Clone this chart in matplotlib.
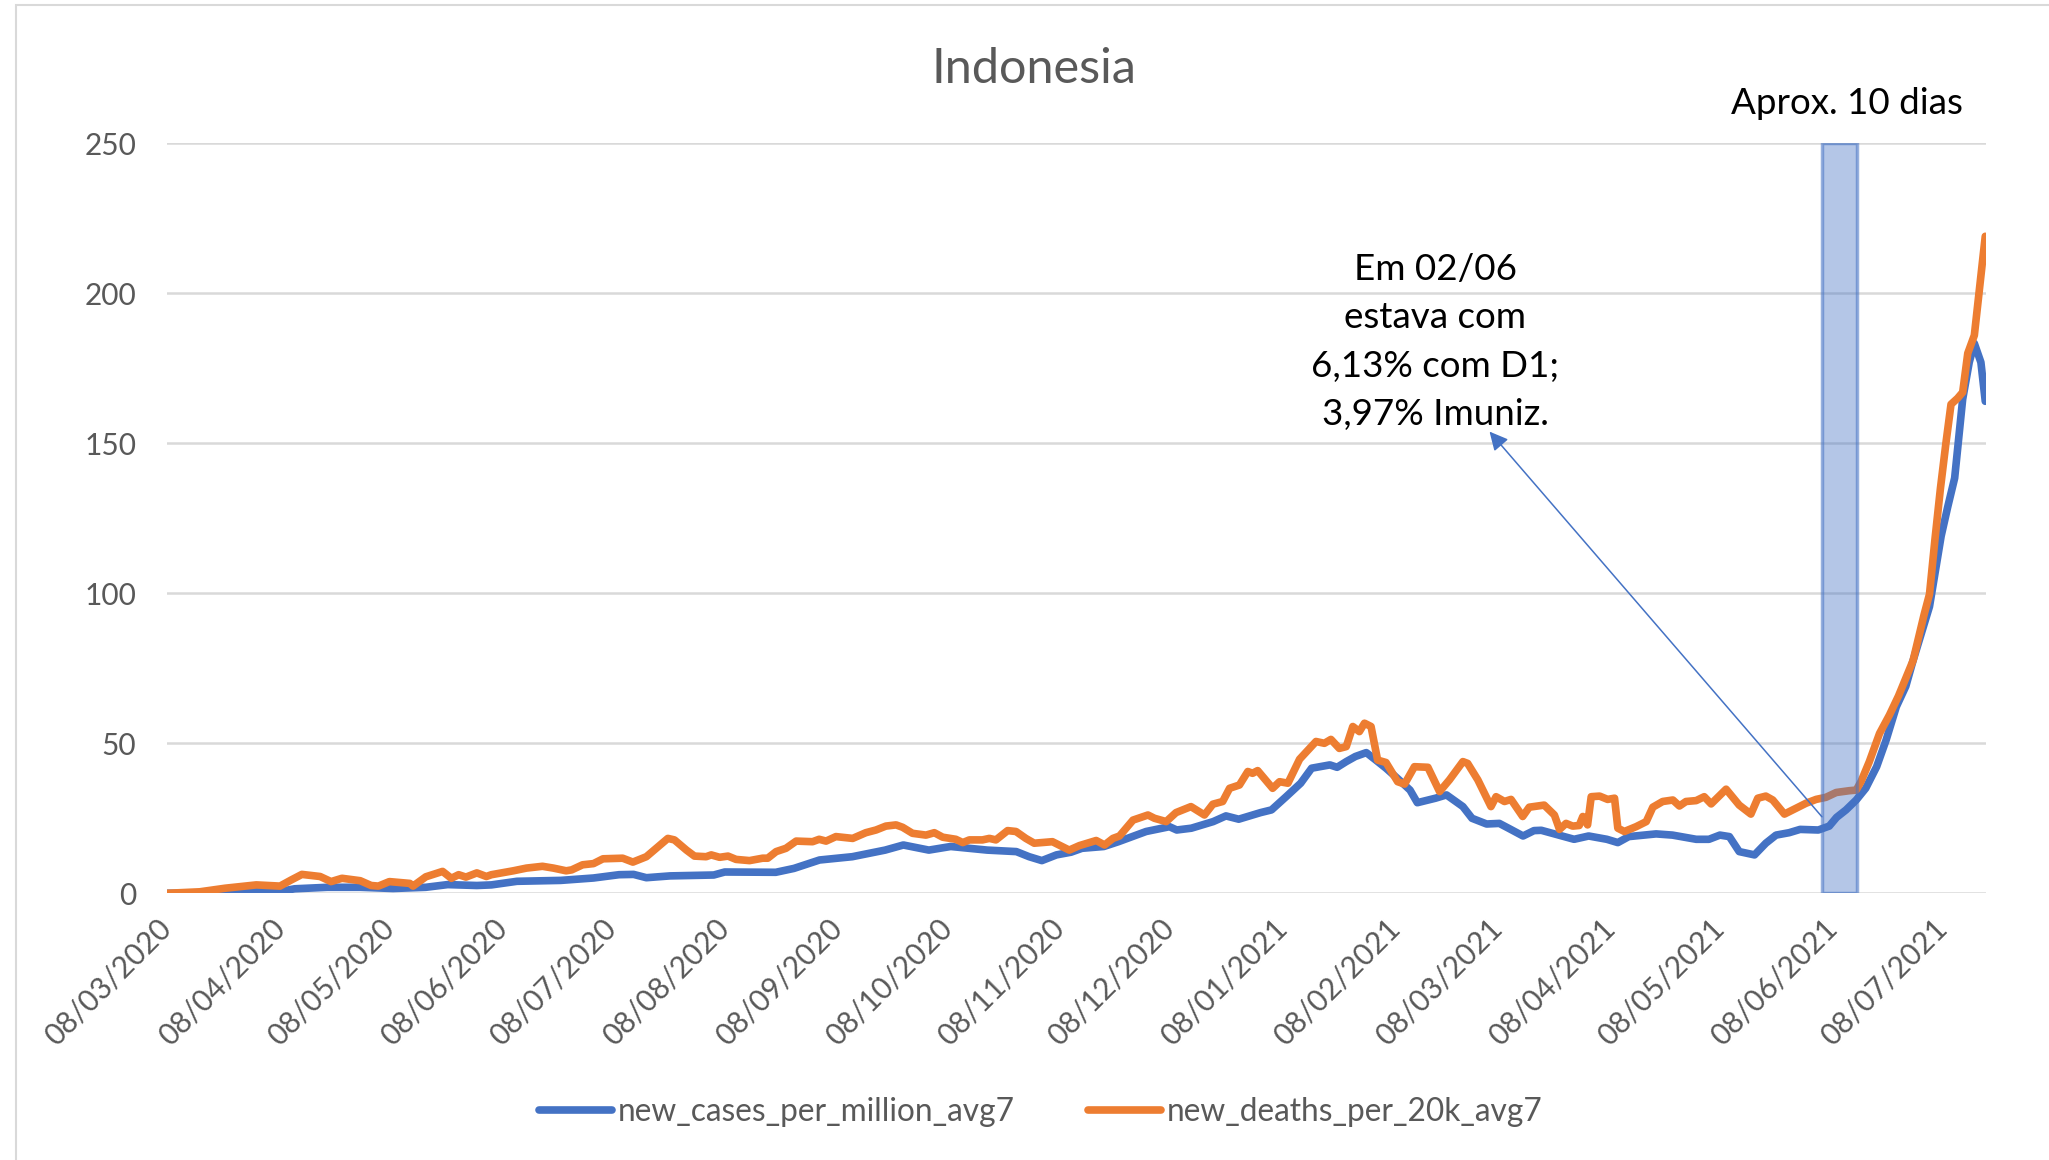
import matplotlib
matplotlib.use("Agg")
import matplotlib.pyplot as plt
import matplotlib.dates as mdates
import matplotlib.patches as mpatches
import pandas as pd

plt.rcParams["font.family"] = ["Lato", "DejaVu Sans"]

# ── Data (days since 08/03/2020) ──────────────────────────────────
START = pd.Timestamp("2020-03-08")
END_DAY = 499

cases_days = [0, 9, 16, 24, 31, 35, 44, 53, 62, 71, 77, 85, 89, 96, 108, 117, 124, 128,
              131.5, 138, 150, 153, 167, 172, 179, 188, 197, 202, 209, 215, 225, 233,
              236.5, 240, 244, 248, 251, 257, 261, 268.6, 275, 277, 281, 287, 290.5, 294,
              300, 303, 307, 311, 314, 319, 321, 323.5, 326, 329, 331, 334.4, 338, 341,
              343, 348, 351, 355.5, 358, 362, 365.5, 368, 372, 375, 377, 380, 386, 390,
              395, 398, 401, 408.5, 413, 419.5, 423, 426, 428.6, 431.3, 435.5, 438.6,
              441.4, 445, 448, 453, 456, 458, 460.6, 463.4, 466, 469, 471.6, 474.4, 477,
              479, 483.5, 485, 486.7, 488.5, 490.4, 492.6, 494.4, 495.8, 497.6, 498.8]
cases_vals = [0, 0.1, 0.3, 0.5, 0.6, 1.5, 2, 2, 1.6, 2, 2.9, 2.6, 2.8, 4, 4.3, 5.1, 6.2, 6.3,
              5.2, 5.8, 6.1, 7.1, 7, 8.3, 11.1, 12.2, 14.4, 16.1, 14.4, 15.6, 14.4, 13.9,
              12.2, 10.9, 12.8, 13.7, 15, 15.6, 17.2, 20.6, 22.2, 21.1, 21.7, 23.9, 25.8, 24.7,
              26.9, 27.8, 32.2, 36.7, 41.7, 42.8, 42, 43.9, 45.6, 46.9, 45, 41.7, 37.8, 34.4,
              30.2, 31.7, 32.8, 28.9, 25, 23.1, 23.3, 21.7, 19.1, 20.9, 21, 20, 18, 19.1,
              18, 16.9, 18.9, 19.8, 19.4, 18, 18, 19.4, 18.9, 13.9, 12.8, 16.7,
              19.4, 20.2, 21.3, 21.1, 22.4, 25.3, 27.8, 31.1, 35, 42.2, 51.1, 62.2, 69,
              77.6, 95.6, 106.6, 119.1, 128.8, 138.4, 164.7, 177, 183.3, 177, 164]

deaths_days = [0, 9, 16, 24.5, 31, 34, 37, 42, 45, 48, 53, 56, 58, 61, 66.6, 67.5, 71, 75.6,
               78, 80, 82, 85, 87.6, 89, 95, 98.6, 103, 106, 109.5, 111, 114, 117, 119.6,
               125, 127.8, 131.5, 134.2, 137.4, 139.2, 142.5, 144.7, 147.9, 149.3, 151.6,
               153.9, 156.1, 159.8, 163.4, 164.8, 167.1, 169.8, 172.6, 177.1, 178.9, 180.8,
               183.5, 188.1, 191.7, 194.5, 197.2, 200, 201.8, 204.5, 208.2, 210.5, 212.8,
               216.4, 218.3, 220.1, 223.7, 225.6, 227.4, 230.6, 232.9, 235.6, 237.9, 242.9,
               247.5, 250.3, 254.9, 257.2, 259.5, 261.3, 265, 269.1, 270.9, 274.1, 276.8,
               280.9, 284.6, 286.9, 289.6, 291.5, 294.2, 296.5, 297.8, 299.2, 303.3, 305.2,
               307.5, 310.7, 315.2, 317.5, 319.3, 321.6, 323.5, 325.3, 327.1, 328.5, 330.3,
               332.1, 334.4, 337.6, 339.5, 342.2, 345.9, 349.1, 351.8, 355.5, 356.8, 359.6,
               363.2, 364.6, 366.9, 368.7, 371.9, 373.7, 377.8, 380.6, 382, 383.8, 385.6,
               387.4, 388.4, 389.7, 390.7, 393, 395.2, 397.1, 398, 399.8, 403, 405.8, 407.6,
               410.3, 413.1, 414.9, 416.7, 419.5, 421.7, 423.6, 427.7, 431.3, 434.5, 436.4,
               438.6, 440.5, 443.7, 446, 448.2, 449.6, 452.4, 455.1, 457.9, 461.5, 463.4,
               464.7, 467, 469.8, 472.5, 475, 479, 482, 483.5, 485, 486.5, 488, 489.4,
               491.2, 492.6, 494, 495.8, 498.8]
deaths_vals = [0, 0.5, 1.7, 2.8, 2.4, 4.4, 6.3, 5.6, 3.9, 5, 4.2, 2.6, 2.4, 3.9, 3.3, 2.4, 5.5, 7.3,
               5, 6.2, 5.4, 6.8, 5.6, 6.2, 7.5, 8.4, 9, 8.4, 7.5, 7.8, 9.5, 9.9, 11.5,
               11.7, 10.4, 12.2, 15, 18.3, 17.8, 14.4, 12.4, 12.2, 12.8, 12,
               12.4, 11.3, 10.9, 11.7, 11.7, 13.9, 15, 17.4, 17.2, 18, 17.4,
               18.9, 18.3, 20.2, 21.1, 22.4, 22.8, 22, 20, 19.4, 20.2, 18.7,
               18, 16.9, 17.8, 17.8, 18.3, 17.8, 20.9, 20.6, 18.3, 16.7, 17.2,
               14.4, 15.9, 17.6, 16.1, 18.3, 19.1, 24.4, 26.1, 25, 23.9, 26.9,
               28.9, 26.1, 29.7, 30.6, 35, 36.1, 40.6, 40, 40.9, 35, 37.2,
               36.7, 44.7, 50.6, 50, 51.3, 48.3, 48.9, 55.6, 53.9, 56.7, 55.6,
               44.4, 43.6, 37.2, 36.4, 42.2, 42, 33.9, 37.8, 43.9, 43.3, 37.8,
               28.9, 32.2, 30.6, 31.3, 25.6, 28.7, 29.4, 26.1, 21.3, 23.3, 22.4,
               22.6, 25.6, 22.8, 32.2, 32.4, 31.3, 31.7, 21.7, 20.6, 22.2, 23.9, 28.7,
               30.6, 31.1, 29.1, 30.6, 30.9, 32.2, 29.8, 34.7, 29.4, 26.4, 31.7,
               32.4, 31.1, 26.4, 27.8, 29.1, 30, 31.3, 32, 33.6, 34.2, 34.4,
               37.2, 43.9, 53.3, 59.4, 65.8, 77.6, 92.8, 99.7, 118, 135, 150, 163,
               165, 167, 180, 186, 219]

band_days = [454.0, 463.5]
arrow_tail = (454.0, 25.5)
arrow_head = (362.8, 153.9)

BLUE = "#4472C4"
ORANGE = "#ED7D31"
GRAY = "#595959"
GRID = "#D9D9D9"


def to_dates(days):
    return START + pd.to_timedelta(days, unit="D")


fig = plt.figure(figsize=(20.49, 11.6), dpi=100)
ax = fig.add_axes([167 / 2049, 1 - 893.3 / 1160, (1986 - 167) / 2049, 750 / 1160])

ax.plot(to_dates(cases_days), cases_vals, color=BLUE, lw=5.5,
        solid_joinstyle="round", solid_capstyle="round", zorder=3,
        label="new_cases_per_million_avg7")
ax.plot(to_dates(deaths_days), deaths_vals, color=ORANGE, lw=5.5,
        solid_joinstyle="round", solid_capstyle="round", zorder=4,
        label="new_deaths_per_20k_avg7")

# highlighted window
b0, b1 = to_dates(band_days)
ax.add_patch(mpatches.Rectangle((mdates.date2num(b0), 0),
                                mdates.date2num(b1) - mdates.date2num(b0), 250,
                                facecolor=(0.267, 0.447, 0.769, 0.4),
                                edgecolor=(0.267, 0.447, 0.769, 0.55),
                                lw=2.5, zorder=5))

ax.annotate("", xy=(to_dates([arrow_head[0]])[0], arrow_head[1]),
            xytext=(to_dates([arrow_tail[0]])[0], arrow_tail[1]),
            arrowprops=dict(arrowstyle="-|>", color=BLUE, lw=1.1,
                            mutation_scale=28, shrinkA=0, shrinkB=0),
            zorder=6)

# ── Axes ───────────────────────────────────────────────
ax.set_ylim(0, 250)
ax.set_yticks([0, 50, 100, 150, 200, 250])
ax.set_xlim(START, to_dates([END_DAY])[0])
ax.xaxis.set_major_locator(mdates.MonthLocator(bymonthday=8))
ax.xaxis.set_major_formatter(mdates.DateFormatter("%d/%m/%Y"))
ax.tick_params(axis="both", length=0, labelsize=21.5, labelcolor=GRAY)
ax.tick_params(axis="y", pad=22)
ax.tick_params(axis="x", pad=22)
for lbl in ax.get_xticklabels():
    lbl.set_rotation(45)
    lbl.set_ha("right")
    lbl.set_va("center")
    lbl.set_rotation_mode("anchor")

for s in ax.spines.values():
    s.set_visible(False)
ax.yaxis.grid(True, color=GRID, lw=1.8, zorder=0)
ax.set_axisbelow(True)

# ── Texts ──────────────────────────────────────────────
fig.text(1034 / 2049, 1 - 69 / 1160, "Indonesia", ha="center", va="center",
         fontsize=35, color=GRAY)
fig.text(1847 / 2049, 1 - 103 / 1160, "Aprox. 10 dias", ha="center", va="center",
         fontsize=26.5, color="black")
fig.text(1435 / 2049, 1 - 342 / 1160,
         "Em 02/06\nestava com\n6,13% com D1;\n3,97% Imuniz.",
         ha="center", va="center", fontsize=26.5, color="black",
         linespacing=1.57, multialignment="center")

fig.legend(loc="center", bbox_to_anchor=(1041 / 2049, 1 - 1112 / 1160), ncol=2,
           frameon=False, fontsize=22.8, labelcolor=GRAY, handlelength=2.3,
           handletextpad=0.2, columnspacing=2.3)

# chart-area border
fig.patches.append(mpatches.Rectangle((16 / 2049, -0.1), 1.2, 1.1 - 5 / 1160,
                                      transform=fig.transFigure, fill=False,
                                      edgecolor=GRID, lw=1.5))

fig.savefig("out.png", dpi=100)
plt.close(fig)
